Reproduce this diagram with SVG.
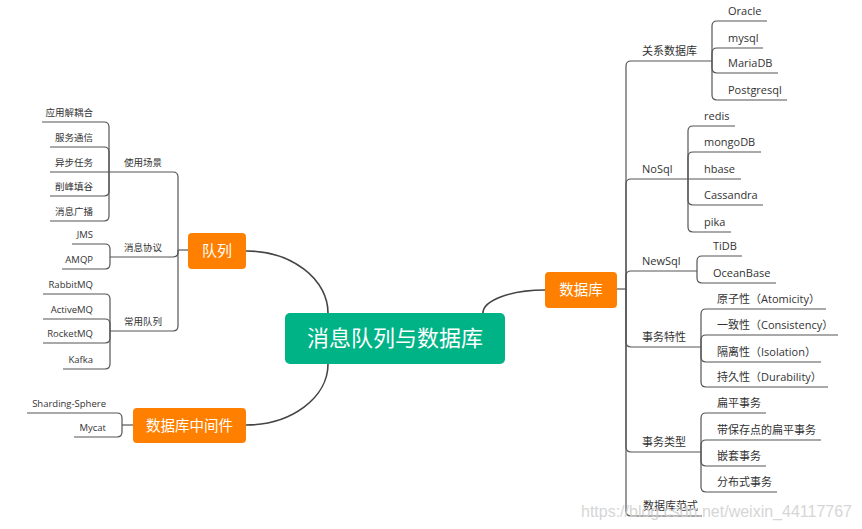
<svg xmlns="http://www.w3.org/2000/svg" width="862" height="529" viewBox="0 0 862 529">
<style>
text{font-family:"Open Sans","Noto Sans CJK SC","Liberation Sans",sans-serif;fill:#333}
.ln{fill:none;stroke:#555;stroke-width:1.2}
.main{fill:none;stroke:#444;stroke-width:1.6}
.l{font-size:9.5px;text-anchor:end}
.lb{font-size:9.5px;text-anchor:middle}
.r{font-size:11px}
.nt{fill:#fff;text-anchor:middle}
.or{fill:#FF8000}
.wm{font-family:"Liberation Sans",sans-serif;font-size:16px;fill:#cfcfcf;text-anchor:end;opacity:0.85}
</style>
<rect width="862" height="529" fill="#fff"/>
<g id="connectors">
<path class="main" d="M246,251 A82,62 0 0 1 328,313"/>
<path class="main" d="M246,425 A82,61 0 0 0 328,364"/>
<path class="main" d="M483,313 A62,23 0 0 1 545,290"/>
<path class="ln" d="M188,250 H178"/>
<path class="ln" d="M133,425 H122"/>
<path class="ln" d="M617,289 H626"/>
<path class="ln" d="M178,250 V177 Q178,172 173,172 H109"/>
<path class="ln" d="M178,250 V252 Q178,257 173,257 H110"/>
<path class="ln" d="M178,250 V326 Q178,331 173,331 H110"/>
<path class="ln" d="M109,172 V127 Q109,122 104,122 H42"/>
<path class="ln" d="M109,172 V152 Q109,147 104,147 H50"/>
<path class="ln" d="M109,172 H50"/>
<path class="ln" d="M109,172 V191 Q109,196 104,196 H50"/>
<path class="ln" d="M109,172 V216 Q109,221 104,221 H50"/>
<path class="ln" d="M110,257 V249 Q110,244 105,244 H72"/>
<path class="ln" d="M110,257 V264 Q110,269 105,269 H62"/>
<path class="ln" d="M110,331 V299 Q110,294 105,294 H43"/>
<path class="ln" d="M110,331 V324 Q110,319 105,319 H43"/>
<path class="ln" d="M110,331 V338 Q110,343 105,343 H43"/>
<path class="ln" d="M110,331 V364 Q110,369 105,369 H63"/>
<path class="ln" d="M122,425 V418 Q122,413 117,413 H27"/>
<path class="ln" d="M122,425 V432 Q122,437 117,437 H74"/>
<path class="ln" d="M626,289 V66 Q626,61 631,61 H712"/>
<path class="ln" d="M626,289 V184 Q626,179 631,179 H688"/>
<path class="ln" d="M626,289 V276 Q626,271 631,271 H697"/>
<path class="ln" d="M626,289 V342 Q626,347 631,347 H701"/>
<path class="ln" d="M626,289 V447 Q626,452 631,452 H701"/>
<path class="ln" d="M626,289 V511 Q626,516 631,516 H702"/>
<path class="ln" d="M712,61 V26 Q712,21 717,21 H767"/>
<path class="ln" d="M712,61 V53 Q712,48 717,48 H763"/>
<path class="ln" d="M712,61 V68 Q712,73 717,73 H778"/>
<path class="ln" d="M712,61 V95 Q712,100 717,100 H787"/>
<path class="ln" d="M688,179 V131 Q688,126 693,126 H735"/>
<path class="ln" d="M688,179 V157 Q688,152 693,152 H761"/>
<path class="ln" d="M688,179 H741"/>
<path class="ln" d="M688,179 V200 Q688,205 693,205 H763"/>
<path class="ln" d="M688,179 V227 Q688,232 693,232 H731"/>
<path class="ln" d="M697,271 V261 Q697,256 702,256 H742"/>
<path class="ln" d="M697,271 V278 Q697,283 702,283 H776"/>
<path class="ln" d="M701,347 V314 Q701,309 706,309 H826"/>
<path class="ln" d="M701,347 V340 Q701,335 706,335 H838"/>
<path class="ln" d="M701,347 V357 Q701,362 706,362 H821"/>
<path class="ln" d="M701,347 V382 Q701,387 706,387 H828"/>
<path class="ln" d="M701,452 V418 Q701,413 706,413 H766"/>
<path class="ln" d="M701,452 V445 Q701,440 706,440 H821"/>
<path class="ln" d="M701,452 V461 Q701,466 706,466 H766"/>
<path class="ln" d="M701,452 V487 Q701,492 706,492 H777"/>
</g>
<g id="root"><rect x="285" y="313" width="220" height="51" rx="5" fill="#00B386"/><text class="nt" x="395" y="346" font-size="22">消息队列与数据库</text></g>
<g id="queue"><rect class="or" x="188" y="233" width="58" height="36" rx="4"/><text class="nt" x="217" y="256" font-size="15">队列</text></g>
<g id="middleware"><rect class="or" x="133" y="408" width="113" height="35" rx="4"/><text class="nt" x="189.5" y="430.5" font-size="14.5">数据库中间件</text></g>
<g id="database"><rect class="or" x="545" y="272" width="72" height="36" rx="4"/><text class="nt" x="581" y="295" font-size="14.5">数据库</text></g>
<g id="q-usage"><text class="lb" x="143" y="166">使用场景</text></g>
<g id="q-protocol"><text class="lb" x="143" y="251">消息协议</text></g>
<g id="q-common"><text class="lb" x="143" y="325">常用队列</text></g>
<g id="u1"><text class="l" x="93" y="116">应用解耦合</text></g>
<g id="u2"><text class="l" x="93" y="141">服务通信</text></g>
<g id="u3"><text class="l" x="93" y="166">异步任务</text></g>
<g id="u4"><text class="l" x="93" y="190">削峰填谷</text></g>
<g id="u5"><text class="l" x="93" y="215">消息广播</text></g>
<g id="p1"><text class="l" x="93" y="238">JMS</text></g>
<g id="p2"><text class="l" x="93" y="263">AMQP</text></g>
<g id="c1"><text class="l" x="93" y="288">RabbitMQ</text></g>
<g id="c2"><text class="l" x="93" y="313">ActiveMQ</text></g>
<g id="c3"><text class="l" x="93" y="337">RocketMQ</text></g>
<g id="c4"><text class="l" x="93" y="363">Kafka</text></g>
<g id="m1"><text class="l" x="106" y="407">Sharding-Sphere</text></g>
<g id="m2"><text class="l" x="106" y="431">Mycat</text></g>
<g id="d-rel"><text class="r" x="642" y="55">关系数据库</text></g>
<g id="d-nosql"><text class="r" x="642" y="173">NoSql</text></g>
<g id="d-newsql"><text class="r" x="642" y="265">NewSql</text></g>
<g id="d-acid"><text class="r" x="642" y="341">事务特性</text></g>
<g id="d-txtype"><text class="r" x="642" y="446">事务类型</text></g>
<g id="d-nf"><text class="r" x="643" y="510">数据库范式</text></g>
<g id="r1"><text class="r" x="728" y="15">Oracle</text></g>
<g id="r2"><text class="r" x="728" y="42">mysql</text></g>
<g id="r3"><text class="r" x="728" y="67">MariaDB</text></g>
<g id="r4"><text class="r" x="728" y="94">Postgresql</text></g>
<g id="n1"><text class="r" x="704" y="120">redis</text></g>
<g id="n2"><text class="r" x="704" y="146">mongoDB</text></g>
<g id="n3"><text class="r" x="704" y="173">hbase</text></g>
<g id="n4"><text class="r" x="704" y="199">Cassandra</text></g>
<g id="n5"><text class="r" x="704" y="226">pika</text></g>
<g id="ns1"><text class="r" x="713" y="250">TiDB</text></g>
<g id="ns2"><text class="r" x="713" y="277">OceanBase</text></g>
<g id="a1"><text class="r" x="717" y="303">原子性（Atomicity）</text></g>
<g id="a2"><text class="r" x="717" y="329">一致性（Consistency）</text></g>
<g id="a3"><text class="r" x="717" y="356">隔离性（Isolation）</text></g>
<g id="a4"><text class="r" x="717" y="381">持久性（Durability）</text></g>
<g id="t1"><text class="r" x="717" y="407">扁平事务</text></g>
<g id="t2"><text class="r" x="717" y="434">带保存点的扁平事务</text></g>
<g id="t3"><text class="r" x="717" y="460">嵌套事务</text></g>
<g id="t4"><text class="r" x="717" y="486">分布式事务</text></g>
<text class="wm" x="852" y="517">https://blog.csdn.net/weixin_44117767</text>
</svg>
